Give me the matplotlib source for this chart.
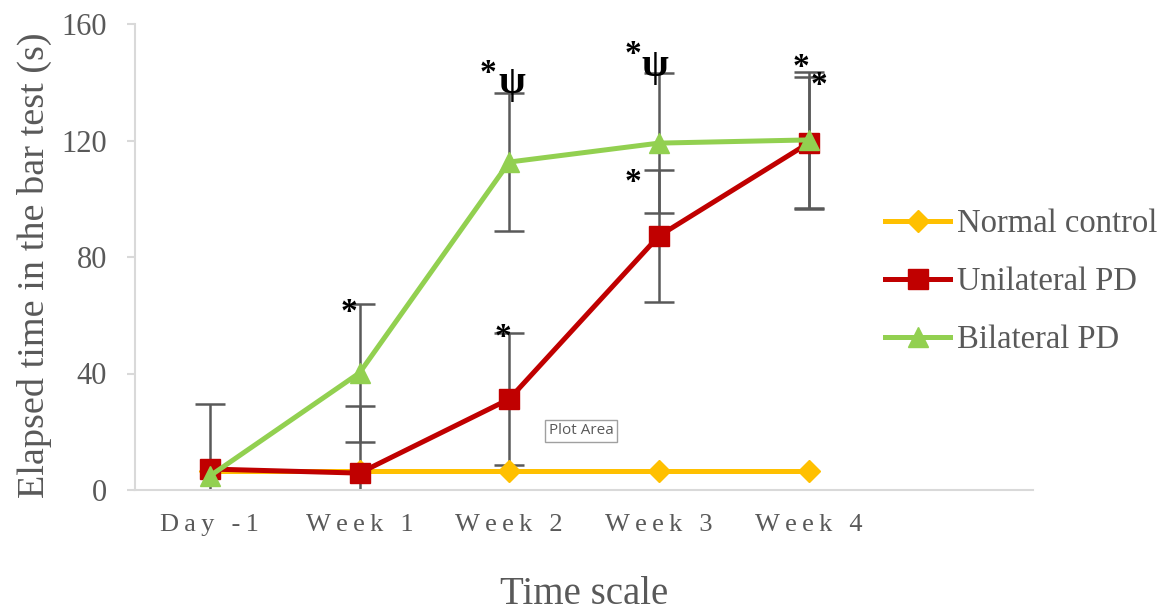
import matplotlib
matplotlib.use("Agg")
import matplotlib.pyplot as plt

plt.rcParams['font.family'] = ['Liberation Serif', 'DejaVu Serif']

categories = ["Day -1", "Week 1", "Week 2", "Week 3", "Week 4"]
normal = [6.5, 6.5, 6.5, 6.5, 6.5]
unilateral = [7.2, 5.8, 31.2, 87.2, 119.1]
unilateral_err = [22.3, 23.0, 22.7, 22.7, 22.6]
bilateral = [4.8, 40.2, 112.6, 119.1, 120.2]
bilateral_err = [None, 23.7, 23.7, 24.0, 23.3]

# annotation texts: (text, x in category units, y value, size, weight)
annotations = [
    ("*", 0.93, 61.0, 24, "bold"),
    ("*", 1.86, 143.0, 24, "bold"),
    ("ψ", 2.02, 139.5, 28, "bold"),
    ("*", 1.96, 52.5, 24, "bold"),
    ("*", 2.83, 149.5, 24, "bold"),
    ("ψ", 2.97, 145.5, 28, "bold"),
    ("*", 2.83, 105.5, 24, "bold"),
    ("*", 3.95, 145.0, 24, "bold"),
    ("*", 4.07, 139.0, 24, "bold"),
]

YELLOW = "#FFC000"
RED = "#C00000"
GREEN = "#92D050"
GREY = "#595959"
AXIS = "#D9D9D9"

fig = plt.figure(figsize=(11.75, 6.13), dpi=100)
ax = fig.add_axes([135/1175, 1-490/613, 898/1175, 466/613])

x = list(range(len(categories)))

ax.errorbar(x, unilateral, yerr=unilateral_err, fmt='none', ecolor=GREY,
            elinewidth=1.8, capsize=10.5, capthick=1.8, zorder=2)
bx = [i for i, e in zip(x, bilateral_err) if e is not None]
by = [v for v, e in zip(bilateral, bilateral_err) if e is not None]
be = [e for e in bilateral_err if e is not None]
ax.errorbar(bx, by, yerr=be, fmt='none', ecolor=GREY,
            elinewidth=1.8, capsize=10.5, capthick=1.8, zorder=2)

ax.plot(x, normal, color=YELLOW, lw=3.6, marker='D', ms=11, mec=YELLOW,
        label="Normal control", zorder=3)
ax.plot(x, unilateral, color=RED, lw=3.6, marker='s', ms=14, mec=RED,
        label="Unilateral PD", zorder=4)
ax.plot(x, bilateral, color=GREEN, lw=3.6, marker='^', ms=15, mec=GREEN,
        label="Bilateral PD", zorder=5)

ax.set_xlim(-0.5, 5.5)
ax.set_ylim(0, 160)
ax.set_yticks([0, 40, 80, 120, 160])
ax.set_xticks(x)
spaced = ["\u2009".join(list(c)) for c in categories]
ax.set_xticklabels(spaced)

for s in ["top", "right"]:
    ax.spines[s].set_visible(False)
for s in ["left", "bottom"]:
    ax.spines[s].set_color(AXIS)
    ax.spines[s].set_linewidth(1.5)
ax.tick_params(axis='y', colors=AXIS, labelcolor=GREY, labelsize=22,
               length=6, width=1.5, pad=14)
ax.tick_params(axis='x', length=0, labelcolor=GREY, labelsize=19, pad=17)

ax.set_ylabel("Elapsed time in the bar test (s)", fontsize=27.5, color=GREY)
ax.yaxis.set_label_coords(-0.092, 0.483)
ax.set_xlabel("Time scale", fontsize=28, color=GREY, labelpad=29)

for t, xx, yy, sz, w in annotations:
    ax.text(xx, yy, t, fontsize=sz, fontweight=w, color="black",
            ha='center', va='center', zorder=6, clip_on=False)

leg = fig.legend(loc='center left', bbox_to_anchor=(885/1175, 1-282/613),
                 frameon=False, fontsize=23.5, handlelength=2.0,
                 handletextpad=0.2, labelspacing=0.85, borderpad=0,
                 borderaxespad=0)
for txt in leg.get_texts():
    txt.set_color(GREY)

# Excel "Plot Area" tooltip
fig.text(581/1175, 1-431/613, "Plot Area", fontsize=11, color=GREY,
         family="Open Sans", ha='center', va='center',
         bbox=dict(boxstyle='square,pad=0.22', fc='white', ec='#A0A0A0', lw=1))

fig.savefig("out.png", dpi=100)
